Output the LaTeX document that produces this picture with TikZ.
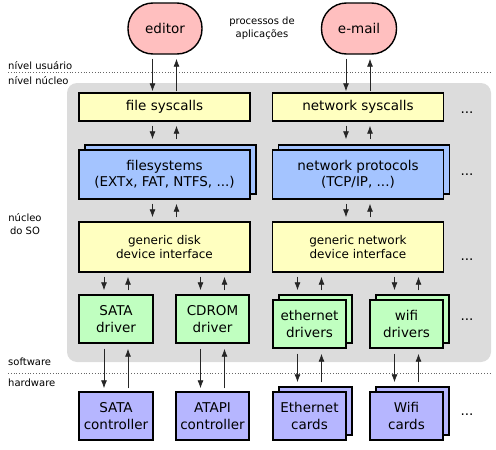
\documentclass[tikz,border=0pt]{standalone}
\usepackage{fontspec}
\setmainfont{DejaVu Sans}
\usepackage{tikz}
\usetikzlibrary{
    arrows.meta,
    shadows,
    calc,
    positioning
}
\definecolor{procpink}{HTML}{FFBFBF}
\definecolor{sysyellow}{HTML}{FFFFC0}
\definecolor{fsblue}{HTML}{A4C4FF}
\definecolor{drvgreen}{HTML}{C0FFC0}
\definecolor{hwpurple}{HTML}{B6B6FF}
\definecolor{panelgray}{HTML}{DCDCDC}
\tikzset{
    box/.style={draw, line width=1.4pt, inner sep=0pt, align=center,
        font=\fontsize{13.5}{16.5}\selectfont},
    proc/.style={box, fill=procpink, minimum height=51pt, rounded corners=25pt},
    wide/.style={box, minimum width=171pt},
    small/.style={box, minimum width=74pt, minimum height=48pt},
    stacked/.style={copy shadow={shadow xshift=6pt, shadow yshift=5pt,
        fill=#1, draw=black, line width=1.4pt}},
    sidelabel/.style={anchor=west, inner sep=0pt, font=\fontsize{10}{13}\selectfont},
    flow/.style={-{Latex[length=8pt, width=6pt]}, line width=0.8pt, black!85},
    sepline/.style={dotted, line width=0.8pt, black!60}
}

\begin{document}
\begin{tikzpicture}[x=1pt, y=-1pt]
    \useasboundingbox (0, 0) rectangle (496, 450);
    % kernel area
    \fill[panelgray, rounded corners=10pt] (67, 83) rectangle (491, 362);
    \draw[sepline] (8, 72) -- (491, 72);
    \draw[sepline] (8, 373) -- (491, 373);

    % side labels
    \node[sidelabel] (user) at (8, 66) {nível usuário};
    \node[sidelabel] (kernel) at (8, 81) {nível núcleo};
    \node[sidelabel, anchor=center, align=center] (oskernel) at (25, 224) {núcleo\\do SO};
    \node[sidelabel] (soft) at (8, 362) {software};
    \node[sidelabel] (hard) at (8, 383) {hardware};

    % applications
    \node[proc, minimum width=74pt] (editor) at (165, 28.5) {editor};
    \node[proc, minimum width=75pt] (email) at (359, 28.5) {e-mail};
    \node[sidelabel, anchor=center, align=center] (apps) at (262, 28) {processos de\\aplicações};

    % kernel layers
    \node[wide, fill=sysyellow, minimum height=28pt] (fsc) at (164.5, 107) {file syscalls};
    \node[wide, fill=sysyellow, minimum height=28pt] (nsc) at (358, 107) {network syscalls};
    \node[wide, fill=fsblue, minimum height=49pt, stacked=fsblue] (fs) at (164.5, 174.5) {filesystems\\(EXTx, FAT, NTFS, ...)};
    \node[wide, fill=fsblue, minimum height=49pt, stacked=fsblue] (np) at (358, 174.5) {network protocols\\(TCP/IP, ...)};
    \node[wide, fill=sysyellow, minimum height=50pt, font=\fontsize{12}{14}\selectfont] (gdisk) at (164.5, 247) {generic disk\\device interface};
    \node[wide, fill=sysyellow, minimum height=50pt, font=\fontsize{12}{14}\selectfont] (gnet) at (358, 247) {generic network\\device interface};
    \node[small, fill=drvgreen] (satad) at (116, 319) {SATA\\driver};
    \node[small, fill=drvgreen, minimum width=73pt] (cdromd) at (212.5, 319) {CDROM\\driver};
    \node[small, fill=drvgreen, minimum width=73pt, stacked=drvgreen] (ethd) at (309.5, 324) {ethernet\\drivers};
    \node[small, fill=drvgreen, minimum width=73pt, stacked=drvgreen] (wifid) at (406.5, 324) {wifi\\drivers};

    % hardware
    \node[small, fill=hwpurple] (satac) at (116, 416) {SATA\\controller};
    \node[small, fill=hwpurple, minimum width=73pt] (atapic) at (212.5, 416) {ATAPI\\controller};
    \node[small, fill=hwpurple, minimum width=73pt, stacked=hwpurple] (ethc) at (309.5, 416) {Ethernet\\cards};
    \node[small, fill=hwpurple, minimum width=73pt, stacked=hwpurple] (wific) at (406.5, 416) {Wifi\\cards};

    % more of the same
    \foreach \name/\y in {dsc/113, dfs/175, dgen/260, ddrv/320, dhw/415}
        \node[font=\fontsize{13.5}{16}\selectfont] (\name) at (467, \y) {...};

    % requests go down, answers come up
    \foreach \u/\l/\s/\e in {editor/fsc/4/1, email/nsc/4/1, fsc/fs/4/10, nsc/np/4/10,
            fs/gdisk/4/4, np/gnet/4/4, gdisk/satad/4/4, gdisk/cdromd/4/4,
            gnet/ethd/4/9, gnet/wifid/4/9, satad/satac/5/3, cdromd/atapic/5/3,
            ethd/ethc/5/9, wifid/wific/5/9} {
        \draw[flow, shorten <=\s pt, shorten >=\e pt]
            ([xshift=-12pt]\l.north |- \u.south) -- ([xshift=-12pt]\l.north);
        \draw[flow, shorten <=\e pt, shorten >=\s pt]
            ([xshift=12pt]\l.north) -- ([xshift=12pt]\l.north |- \u.south);
    }
\end{tikzpicture}
\end{document}
